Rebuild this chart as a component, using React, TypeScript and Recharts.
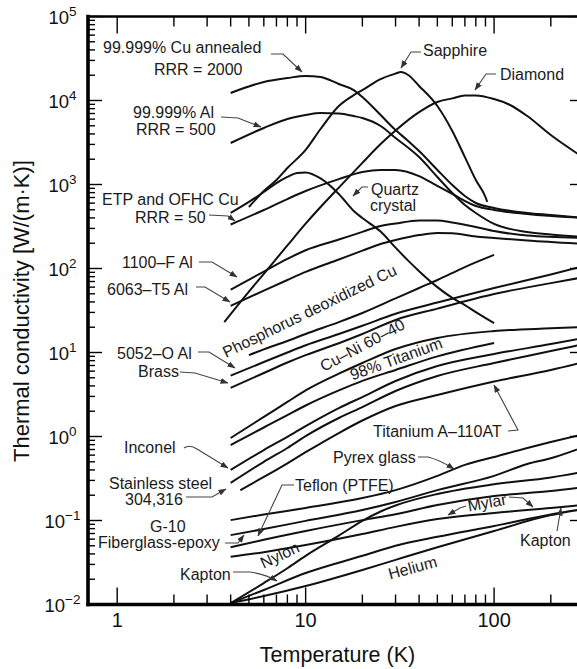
import React from 'react';
import { LineChart, Line, XAxis, YAxis } from 'recharts';

const FONT = '"Liberation Sans", Arial, Helvetica, sans-serif';

// ---------- tick values ----------
const xTicks = [1, 2, 3, 4, 5, 6, 7, 8, 9, 10, 20, 30, 40, 50, 60, 70, 80, 90, 100, 200, 300];
const yTicks = [
  0.01, 0.02, 0.03, 0.04, 0.05, 0.06, 0.07, 0.08, 0.09,
  0.1, 0.2, 0.3, 0.4, 0.5, 0.6, 0.7, 0.8, 0.9,
  1, 2, 3, 4, 5, 6, 7, 8, 9,
  10, 20, 30, 40, 50, 60, 70, 80, 90,
  100, 200, 300, 400, 500, 600, 700, 800, 900,
  1000, 2000, 3000, 4000, 5000, 6000, 7000, 8000, 9000,
  10000, 20000, 30000, 40000, 50000, 60000, 70000, 80000, 90000,
  100000,
];

// ---------- series (T [K], k [W/(m·K)]) ----------
const cuAnnealed = [
  { T: 4, k: 12300 }, { T: 6, k: 16600 }, { T: 8, k: 18500 }, { T: 10, k: 19600 }, { T: 12, k: 19050 },
  { T: 15, k: 15700 }, { T: 18, k: 13300 }, { T: 20, k: 11000 }, { T: 25, k: 6720 }, { T: 30, k: 4450 },
  { T: 35, k: 3300 }, { T: 40, k: 2500 }, { T: 50, k: 1490 }, { T: 60, k: 986 }, { T: 70, k: 729 },
  { T: 80, k: 602 }, { T: 100, k: 525 }, { T: 150, k: 458 }, { T: 200, k: 433 }, { T: 300, k: 399 },
];
const al99999 = [
  { T: 4, k: 3120 }, { T: 6, k: 4710 }, { T: 8, k: 6030 }, { T: 10, k: 6720 }, { T: 12, k: 7100 },
  { T: 15, k: 7000 }, { T: 18, k: 6530 }, { T: 20, k: 6190 }, { T: 25, k: 4970 }, { T: 30, k: 3580 },
  { T: 40, k: 2120 }, { T: 50, k: 1230 }, { T: 60, k: 792 }, { T: 70, k: 570 }, { T: 80, k: 458 },
  { T: 100, k: 339 }, { T: 150, k: 272 }, { T: 200, k: 254 }, { T: 300, k: 237 },
];
const sapphire = [
  { T: 5, k: 540 }, { T: 6, k: 837 }, { T: 7, k: 1130 }, { T: 8, k: 1570 }, { T: 10, k: 2580 },
  { T: 12, k: 4580 }, { T: 15, k: 8600 }, { T: 18, k: 11600 }, { T: 20, k: 13300 }, { T: 25, k: 18000 },
  { T: 30, k: 20900 }, { T: 32, k: 21800 }, { T: 35, k: 20100 }, { T: 40, k: 14900 }, { T: 50, k: 8600 },
  { T: 60, k: 4340 }, { T: 70, k: 2120 }, { T: 80, k: 1130 }, { T: 90, k: 710 }, { T: 92, k: 620 },
];
const diamond = [
  { T: 3.7, k: 23 }, { T: 5, k: 53 }, { T: 6, k: 86.5 }, { T: 8, k: 188 }, { T: 10, k: 342 },
  { T: 12, k: 540 }, { T: 15, k: 919 }, { T: 20, k: 1810 }, { T: 25, k: 3030 }, { T: 30, k: 4390 },
  { T: 40, k: 7260 }, { T: 50, k: 9600 }, { T: 60, k: 10600 }, { T: 70, k: 11500 }, { T: 80, k: 11500 },
  { T: 100, k: 10400 }, { T: 120, k: 8960 }, { T: 150, k: 6530 }, { T: 200, k: 3880 }, { T: 300, k: 2070 },
];
const quartz = [
  { T: 4, k: 458 }, { T: 5, k: 620 }, { T: 6, k: 815 }, { T: 7, k: 1040 }, { T: 8, k: 1230 },
  { T: 9, k: 1370 }, { T: 10, k: 1390 }, { T: 12, k: 1180 }, { T: 15, k: 770 }, { T: 18, k: 484 },
  { T: 20, k: 399 }, { T: 25, k: 275 }, { T: 30, k: 177 }, { T: 35, k: 124 }, { T: 40, k: 93 },
  { T: 50, k: 60 }, { T: 60, k: 44.6 }, { T: 70, k: 36.7 }, { T: 80, k: 30.3 }, { T: 100, k: 22.4 },
];
const etpCu = [
  { T: 4, k: 334 }, { T: 6, k: 497 }, { T: 8, k: 671 }, { T: 10, k: 837 }, { T: 15, k: 1160 },
  { T: 20, k: 1410 }, { T: 25, k: 1490 }, { T: 30, k: 1490 }, { T: 40, k: 1260 }, { T: 50, k: 960 },
  { T: 60, k: 771 }, { T: 80, k: 555 }, { T: 100, k: 497 }, { T: 150, k: 446 }, { T: 300, k: 399 },
];
const al1100F = [
  { T: 4, k: 56 }, { T: 6, k: 92 }, { T: 8, k: 130 }, { T: 10, k: 165 }, { T: 15, k: 221 },
  { T: 20, k: 273 }, { T: 25, k: 321 }, { T: 30, k: 343 }, { T: 40, k: 373 }, { T: 50, k: 373 },
  { T: 60, k: 353 }, { T: 80, k: 312 }, { T: 100, k: 279 }, { T: 150, k: 247 }, { T: 300, k: 231 },
];
const al6063T5 = [
  { T: 4, k: 36 }, { T: 6, k: 54.6 }, { T: 8, k: 73 }, { T: 10, k: 91 }, { T: 15, k: 128 },
  { T: 20, k: 163 }, { T: 25, k: 196 }, { T: 30, k: 218 }, { T: 40, k: 250 }, { T: 50, k: 265 },
  { T: 60, k: 262 }, { T: 80, k: 240 }, { T: 100, k: 231 }, { T: 150, k: 215 }, { T: 300, k: 196 },
];
const phosCu = [
  { T: 5, k: 9.3 }, { T: 6, k: 10.9 }, { T: 8, k: 13.7 }, { T: 10, k: 16.6 }, { T: 15, k: 23 },
  { T: 20, k: 29.5 }, { T: 30, k: 44 }, { T: 40, k: 58.6 }, { T: 50, k: 73 }, { T: 70, k: 104 },
  { T: 100, k: 145 },
];
const al5052O = [
  { T: 4, k: 5.3 }, { T: 6, k: 7.7 }, { T: 8, k: 10 }, { T: 10, k: 12.2 }, { T: 15, k: 16.6 },
  { T: 20, k: 20.8 }, { T: 30, k: 28.9 }, { T: 50, k: 39.3 }, { T: 100, k: 58.6 }, { T: 200, k: 85 },
  { T: 300, k: 107 },
];
const brass = [
  { T: 4, k: 3.8 }, { T: 6, k: 5.7 }, { T: 8, k: 7.6 }, { T: 10, k: 9.3 }, { T: 15, k: 12.9 },
  { T: 20, k: 16.6 }, { T: 30, k: 24.4 }, { T: 50, k: 33.3 }, { T: 100, k: 49.7 }, { T: 200, k: 67 },
  { T: 300, k: 79 },
];
const cuNi = [
  { T: 4, k: 0.96 }, { T: 6, k: 1.71 }, { T: 8, k: 2.58 }, { T: 10, k: 3.54 }, { T: 15, k: 5.6 },
  { T: 20, k: 7.5 }, { T: 30, k: 11 }, { T: 50, k: 14.9 }, { T: 100, k: 18 }, { T: 200, k: 19.4 },
  { T: 300, k: 20.1 },
];
const ti98 = [
  { T: 4, k: 0.79 }, { T: 6, k: 1.28 }, { T: 8, k: 1.8 }, { T: 10, k: 2.34 }, { T: 15, k: 3.54 },
  { T: 20, k: 4.6 }, { T: 30, k: 6.2 }, { T: 50, k: 9 }, { T: 100, k: 13 },
];
const inconel = [
  { T: 4, k: 0.4 }, { T: 6, k: 0.69 }, { T: 8, k: 0.99 }, { T: 10, k: 1.33 }, { T: 15, k: 2.18 },
  { T: 20, k: 2.95 }, { T: 30, k: 4.58 }, { T: 50, k: 6.9 }, { T: 100, k: 9.6 }, { T: 200, k: 12.6 },
  { T: 300, k: 14.9 },
];
const stainless = [
  { T: 4, k: 0.28 }, { T: 6, k: 0.5 }, { T: 8, k: 0.73 }, { T: 10, k: 1.01 }, { T: 15, k: 1.66 },
  { T: 20, k: 2.24 }, { T: 30, k: 3.48 }, { T: 50, k: 5.25 }, { T: 100, k: 7.5 }, { T: 200, k: 10.4 },
  { T: 300, k: 12.6 },
];
const tiA110AT = [
  { T: 4.5, k: 0.23 }, { T: 6, k: 0.33 }, { T: 8, k: 0.48 }, { T: 10, k: 0.65 }, { T: 15, k: 1.1 },
  { T: 20, k: 1.55 }, { T: 30, k: 2.31 }, { T: 50, k: 3.12 }, { T: 100, k: 4.52 }, { T: 200, k: 6.2 },
  { T: 300, k: 7.7 },
];
const pyrex = [
  { T: 4, k: 0.101 }, { T: 6, k: 0.118 }, { T: 10, k: 0.141 }, { T: 20, k: 0.185 }, { T: 30, k: 0.23 },
  { T: 50, k: 0.34 }, { T: 70, k: 0.46 }, { T: 100, k: 0.57 }, { T: 150, k: 0.73 }, { T: 200, k: 0.86 },
  { T: 300, k: 1.07 },
];
const g10 = [
  { T: 4, k: 0.067 }, { T: 6, k: 0.079 }, { T: 10, k: 0.099 }, { T: 20, k: 0.133 }, { T: 30, k: 0.166 },
  { T: 50, k: 0.23 }, { T: 100, k: 0.34 }, { T: 150, k: 0.47 }, { T: 200, k: 0.55 }, { T: 300, k: 0.75 },
];
const teflon = [
  { T: 4, k: 0.048 }, { T: 6, k: 0.059 }, { T: 10, k: 0.075 }, { T: 20, k: 0.101 }, { T: 30, k: 0.119 },
  { T: 50, k: 0.153 }, { T: 100, k: 0.196 }, { T: 200, k: 0.224 }, { T: 300, k: 0.25 },
];
const nylon = [
  { T: 4, k: 0.0104 }, { T: 6, k: 0.018 }, { T: 8, k: 0.027 }, { T: 10, k: 0.038 }, { T: 15, k: 0.066 },
  { T: 20, k: 0.099 }, { T: 25, k: 0.128 }, { T: 30, k: 0.151 }, { T: 50, k: 0.207 }, { T: 100, k: 0.27 },
  { T: 200, k: 0.325 }, { T: 300, k: 0.38 },
];
const mylar = [
  { T: 4, k: 0.037 }, { T: 6, k: 0.042 }, { T: 10, k: 0.051 }, { T: 20, k: 0.069 }, { T: 30, k: 0.084 },
  { T: 50, k: 0.104 }, { T: 100, k: 0.123 }, { T: 200, k: 0.141 }, { T: 300, k: 0.153 },
];
const kapton = [
  { T: 4, k: 0.0104 }, { T: 6, k: 0.0149 }, { T: 10, k: 0.0237 }, { T: 20, k: 0.038 }, { T: 30, k: 0.05 },
  { T: 50, k: 0.064 }, { T: 100, k: 0.086 }, { T: 200, k: 0.118 }, { T: 300, k: 0.137 },
];
const helium = [
  { T: 4, k: 0.0104 }, { T: 6, k: 0.0126 }, { T: 10, k: 0.0166 }, { T: 20, k: 0.0258 }, { T: 30, k: 0.034 },
  { T: 50, k: 0.048 }, { T: 100, k: 0.075 }, { T: 200, k: 0.116 }, { T: 230, k: 0.123 },
];

const series = [
  cuAnnealed, al99999, sapphire, diamond, quartz, etpCu, al1100F, al6063T5, phosCu, al5052O, brass,
  cuNi, ti98, inconel, stainless, tiA110AT, pyrex, g10, teflon, nylon, mylar, kapton, helium,
];

// ---------- annotation labels (pixel layout) ----------
const labels = [
  { t: '99.999% Cu annealed', x: 103, y: 53 },
  { t: 'RRR = 2000', x: 154, y: 75 },
  { t: '99.999% Al', x: 133, y: 118 },
  { t: 'RRR = 500', x: 136, y: 135 },
  { t: 'ETP and OFHC Cu', x: 102, y: 205 },
  { t: 'RRR = 50', x: 135, y: 223 },
  { t: '1100\u2013F Al', x: 122, y: 268 },
  { t: '6063\u2013T5 Al', x: 107, y: 295 },
  { t: '5052\u2013O Al', x: 117, y: 359 },
  { t: 'Brass', x: 138, y: 377 },
  { t: 'Inconel', x: 124, y: 453 },
  { t: 'Stainless steel', x: 109, y: 489 },
  { t: '304,316', x: 125, y: 505 },
  { t: 'G-10', x: 150, y: 532 },
  { t: 'Fiberglass-epoxy', x: 98, y: 548 },
  { t: 'Kapton', x: 180, y: 580 },
  { t: 'Teflon (PTFE)', x: 295, y: 491 },
  { t: 'Pyrex glass', x: 333, y: 463 },
  { t: 'Titanium A\u2013110AT', x: 373, y: 437 },
  { t: 'Kapton', x: 520, y: 546 },
  { t: 'Sapphire', x: 423, y: 56 },
  { t: 'Diamond', x: 500, y: 80 },
  { t: 'Quartz', x: 395, y: 195, a: 'middle' },
  { t: 'crystal', x: 393, y: 211, a: 'middle' },
  { t: 'Phosphorus deoxidized Cu', x: 312, y: 316, a: 'middle', r: -26 },
  { t: 'Cu\u2013Ni 60\u201340', x: 365, y: 350, a: 'middle', r: -28 },
  { t: '98% Titanium', x: 398, y: 364, a: 'middle', r: -20 },
  { t: 'Nylon', x: 282, y: 560, a: 'middle', r: -25 },
  { t: 'Mylar', x: 488, y: 508, a: 'middle', r: -10 },
  { t: 'Helium', x: 414, y: 573, a: 'middle', r: -15 },
];

const leaders = [
  'M271,54 L283,54 L302,72',
  'M221,117 L238,118 L261,127',
  'M209,215 L228,216 L235,221',
  'M199,262 L212,262 L237,277',
  'M196,287 L205,287 L230,302',
  'M198,352 L209,352 L235,368',
  'M180,372 L195,373 L228,383',
  'M184,448 Q190,444 197,449 L228,468',
  'M186,497 L212,497 L226,489',
  'M225,543 L238,543 L244,535',
  'M233,572 L250,572 Q265,574 277,581',
  'M294,485 L282,485 L258,536',
  'M418,457 L428,457 Q440,460 454,469',
  'M466,506 L460,508 L448,515',
  'M509,497 L523,498 L533,507',
  'M557,531 L561,508',
  'M508,431 L518,430 L494,385',
  'M368,187 L362,187 L353,196',
  'M421,52 L411,52 L401,68',
  'M496,74 L486,74 L475,90',
];

const isMajor = (v: number) => {
  const lg = Math.log10(v);
  return Math.abs(lg - Math.round(lg)) < 1e-6;
};

const XTick = (props: any) => {
  const { x, y, payload, side } = props;
  const v = payload.value;
  const major = isMajor(v);
  const len = major ? 17 : 10;
  if (side === 'bottom') {
    const ay = y - 8;
    return (
      <g>
        <line x1={x} x2={x} y1={ay} y2={ay - len} stroke="#000" strokeWidth={1.4} />
        {major && (
          <text x={x} y={ay + 22.5} textAnchor="middle" fontSize={20} fontFamily={FONT} fill="#111">
            {v}
          </text>
        )}
      </g>
    );
  }
  const ay = y + 8;
  return <line x1={x} x2={x} y1={ay} y2={ay + len} stroke="#000" strokeWidth={1.4} />;
};

const YTick = (props: any) => {
  const { x, y, payload, side } = props;
  const v = payload.value;
  const major = isMajor(v);
  const len = major ? 14 : 7;
  if (side === 'left') {
    const ax = x + 8;
    const e = Math.round(Math.log10(v));
    const es = e < 0 ? '\u2212' + String(-e) : String(e);
    return (
      <g>
        <line x1={ax} x2={ax + len} y1={y} y2={y} stroke="#000" strokeWidth={1.4} />
        {major && (
          <text x={ax - 25.5} y={y + 7} textAnchor="middle" fontSize={18.5} fontFamily={FONT} fill="#111">
            10
            <tspan dy={-7.5} fontSize={13.5}>{es}</tspan>
          </text>
        )}
      </g>
    );
  }
  const ax = x - 8;
  return <line x1={ax} x2={ax - len} y1={y} y2={y} stroke="#000" strokeWidth={1.4} />;
};

export default function App() {
  return (
    <div style={{ position: 'fixed', left: 0, top: 0, width: 577, height: 669, overflow: 'hidden', background: '#fff' }}>
      <LineChart width={600} height={669} margin={{ top: 15.5, right: 15, bottom: 0, left: 0 }}>
        <XAxis
          xAxisId="b"
          orientation="bottom"
          type="number"
          dataKey="T"
          scale="log"
          domain={[0.7, 300]}
          allowDataOverflow
          ticks={xTicks}
          interval={0}
          height={64.5}
          tickSize={6}
          tickMargin={2}
          tickLine={false}
          axisLine={{ stroke: '#000', strokeWidth: 3.4, strokeLinecap: 'square' }}
          tick={(p: any) => <XTick {...p} side="bottom" />}
        />
        <XAxis
          xAxisId="t"
          orientation="top"
          type="number"
          dataKey="T"
          scale="log"
          domain={[0.7, 300]}
          allowDataOverflow
          ticks={xTicks}
          interval={0}
          height={1}
          tickSize={6}
          tickMargin={2}
          tickLine={false}
          axisLine={{ stroke: '#000', strokeWidth: 2.6 }}
          tick={(p: any) => <XTick {...p} side="top" />}
        />
        <YAxis
          yAxisId="l"
          orientation="left"
          type="number"
          scale="log"
          domain={[0.01, 100000]}
          allowDataOverflow
          ticks={yTicks}
          interval={0}
          width={88}
          tickSize={6}
          tickMargin={2}
          tickLine={false}
          axisLine={{ stroke: '#000', strokeWidth: 3.6, strokeLinecap: 'square' }}
          tick={(p: any) => <YTick {...p} side="left" />}
        />
        <YAxis
          yAxisId="r"
          orientation="right"
          type="number"
          scale="log"
          domain={[0.01, 100000]}
          allowDataOverflow
          ticks={yTicks}
          interval={0}
          width={1}
          tickSize={6}
          tickMargin={2}
          tickLine={false}
          axisLine={{ stroke: '#000', strokeWidth: 2.6 }}
          tick={(p: any) => <YTick {...p} side="right" />}
        />
        {series.map((d, i) => (
          <Line
            key={i}
            xAxisId="b"
            yAxisId="l"
            data={d}
            dataKey="k"
            type="monotone"
            stroke="#111"
            strokeWidth={2}
            dot={false}
            activeDot={false}
            isAnimationActive={false}
          />
        ))}
      </LineChart>
      <svg
        width={577}
        height={669}
        style={{ position: 'absolute', left: 0, top: 0, pointerEvents: 'none' }}
      >
        <defs>
          <marker id="arr" markerUnits="userSpaceOnUse" markerWidth={8} markerHeight={6} refX={7.5} refY={3} orient="auto">
            <path d="M0,0 L8,3 L0,6 Z" fill="#333" />
          </marker>
        </defs>
        {leaders.map((d, i) => (
          <path key={i} d={d} fill="none" stroke="#444" strokeWidth={1.1} markerEnd="url(#arr)" />
        ))}
        {labels.map((l, i) => (
          <text
            key={i}
            x={l.x}
            y={l.y}
            textAnchor={(l as any).a || 'start'}
            transform={(l as any).r ? `rotate(${(l as any).r} ${l.x} ${l.y})` : undefined}
            fontSize={16}
            fontFamily={FONT}
            fill="#1b1b1b"
          >
            {l.t}
          </text>
        ))}
        <text x={337.5} y={662} textAnchor="middle" fontSize={21.5} fontFamily={FONT} fill="#111">
          Temperature (K)
        </text>
        <text
          x={0}
          y={0}
          transform="translate(29,311) rotate(-90)"
          textAnchor="middle"
          fontSize={22}
          fontFamily={FONT}
          fill="#111"
        >
          Thermal conductivity [W/(m·K)]
        </text>
      </svg>
    </div>
  );
}
